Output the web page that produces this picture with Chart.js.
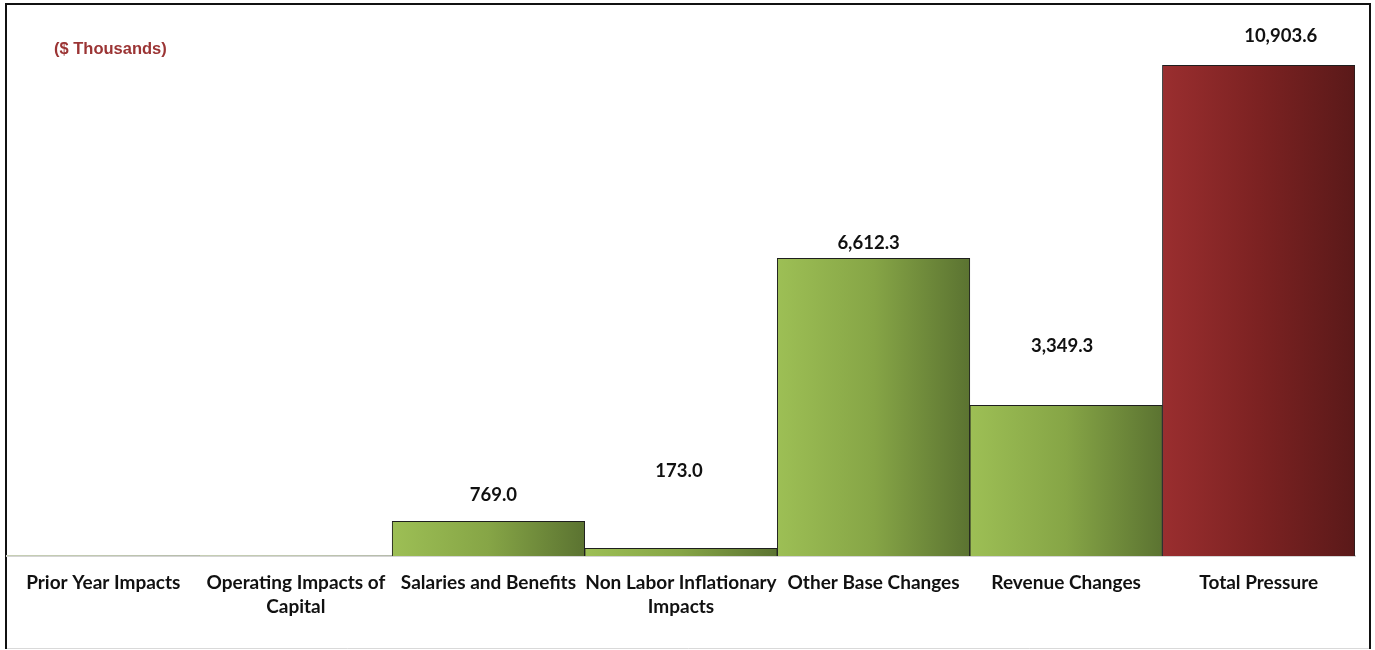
<!DOCTYPE html>
<html>
<head>
<meta charset="utf-8">
<script src="https://cdn.jsdelivr.net/npm/chart.js@4.4.0/dist/chart.umd.min.js"></script>
<style>
html,body{margin:0;padding:0;background:#fff;}
#wrap{position:relative;width:1375px;height:650px;}
</style>
</head>
<body>
<div id="wrap"><canvas id="c" width="1375" height="650"></canvas></div>
<script>
const categories = [
  "Prior Year Impacts",
  ["Operating Impacts of", "Capital"],
  "Salaries and Benefits",
  ["Non Labor Inflationary", "Impacts"],
  "Other Base Changes",
  "Revenue Changes",
  "Total Pressure"
];
const values = [0, 0, 769.0, 173.0, 6612.3, 3349.3, 10903.6];
const isTotal = [false, false, false, false, false, false, true];
const unitsLabel = "($ Thousands)";

const greenStops = ["#9dbf55", "#86a546", "#5b7331"];
const redStops = ["#9a2e2f", "#7c2222", "#5a1919"];
const labelOffsets = [0, 0, 26, 77, 15, 59, 29];
const labelDx = [0, 0, 5, -2, -5, -4, 22];

function barGradient(ctx) {
  const chart = ctx.chart;
  if (!chart.chartArea) return greenStops[0];
  const xs = chart.scales.x;
  const w = xs.width / categories.length;
  const cx = xs.getPixelForValue(ctx.dataIndex);
  const g = chart.ctx.createLinearGradient(cx - w / 2, 0, cx + w / 2, 0);
  const stops = isTotal[ctx.dataIndex] ? redStops : greenStops;
  g.addColorStop(0, stops[0]);
  g.addColorStop(0.5, stops[1]);
  g.addColorStop(1, stops[2]);
  return g;
}

const framePlugin = {
  id: 'frame',
  beforeDraw(chart) {
    const c = chart.ctx;
    c.save();
    c.fillStyle = '#fff';
    c.fillRect(0, 0, chart.width, chart.height);
    c.strokeStyle = '#d9d9d9';
    c.lineWidth = 1;
    c.beginPath(); c.moveTo(6, 648.5); c.lineTo(1371, 648.5); c.stroke();
    c.strokeStyle = '#111';
    c.lineWidth = 2;
    c.beginPath();
    c.moveTo(6, 649); c.lineTo(6, 4); c.lineTo(1370, 4); c.lineTo(1370, 649);
    c.stroke();
    c.font = "bold 16.5px 'Liberation Sans', Arial, sans-serif";
    c.fillStyle = '#9b3434';
    c.textAlign = 'left';
    c.textBaseline = 'middle';
    c.fillText(unitsLabel, 54, 49);
    c.restore();
  }
};

const valueLabelPlugin = {
  id: 'valueLabels',
  afterDatasetsDraw(chart) {
    const c = chart.ctx;
    const meta = chart.getDatasetMeta(0);
    c.save();
    c.font = "bold 18.5px Lato, 'Open Sans', sans-serif";
    c.fillStyle = '#111';
    c.textAlign = 'center';
    c.textBaseline = 'middle';
    meta.data.forEach((bar, i) => {
      const v = values[i];
      if (!v) return;
      const txt = v.toLocaleString('en-US', {minimumFractionDigits: 1, maximumFractionDigits: 1});
      c.fillText(txt, bar.x + labelDx[i], bar.y - labelOffsets[i]);
    });
    c.restore();
  }
};

new Chart(document.getElementById('c'), {
  type: 'bar',
  data: {
    labels: categories,
    datasets: [{
      data: values,
      backgroundColor: barGradient,
      borderColor: '#1e1e1e',
      borderWidth: (ctx) => values[ctx.dataIndex] ? 1 : 0,
      barPercentage: 1,
      categoryPercentage: 1
    }]
  },
  options: {
    responsive: false,
    animation: false,
    layout: { padding: { left: 7, right: 20, top: 16, bottom: 0 } },
    plugins: { legend: { display: false }, tooltip: { enabled: false } },
    scales: {
      y: { display: false, min: 0, max: 12000 },
      x: {
        grid: { display: false, drawTicks: false },
        border: { display: true, color: '#d4d4d4', width: 2 },
        ticks: {
          color: '#111',
          padding: 15,
          maxRotation: 0,
          autoSkip: false,
          font: { family: "Lato, 'Open Sans', sans-serif", size: 19, weight: 'bold', lineHeight: 1.27 }
        },
        afterFit(scale) { scale.height = 94; }
      }
    }
  },
  plugins: [framePlugin, valueLabelPlugin]
});
</script>
</body>
</html>
